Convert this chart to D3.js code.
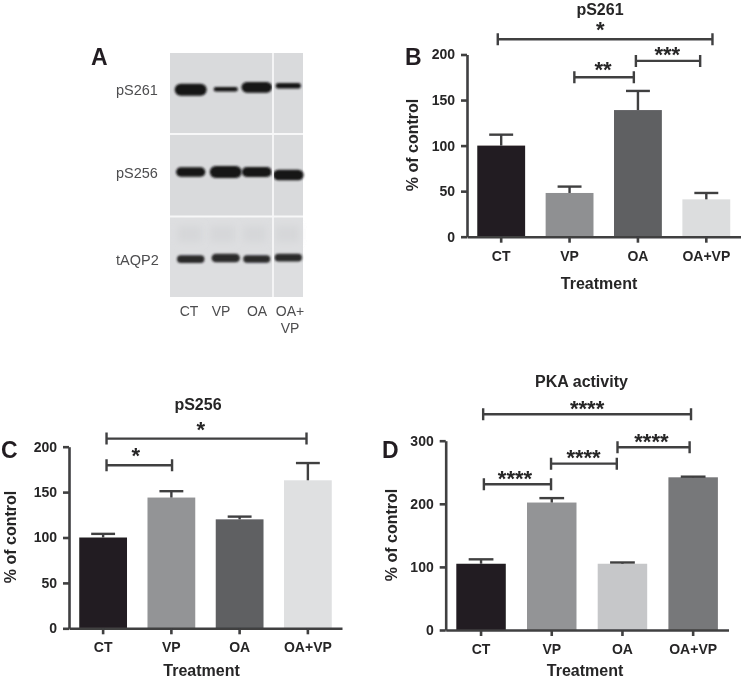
<!DOCTYPE html>
<meta charset="utf-8">
<style>
html, body { margin: 0; background: #fff; }
svg { display: block; font-family: "Liberation Sans", Arial, sans-serif; }
.panel-letter { font-size: 23px; font-weight: bold; fill: #231f20; }
.title, .tick text { font-weight: bold; fill: #262526; }
.title { font-size: 16px; text-anchor: middle; }
.axis-label { font-size: 16px; font-weight: bold; fill: #262526; text-anchor: middle; }
.tick text { font-size: 14px; font-family: "Liberation Sans", Arial, sans-serif; }
.domain, .tick line { stroke: #3f3f41; stroke-width: 2.6px; }
.err, .bracket { stroke: #3f3f41; stroke-width: 2.4px; fill: none; }
.star { font-size: 22px; font-weight: bold; fill: #262526; text-anchor: middle; }
.blot-label { font-size: 14.5px; fill: #4d4d4f; }
.lane-label { font-size: 14px; fill: #4d4d4f; text-anchor: middle; }
</style>
<body>
<script src="https://cdn.jsdelivr.net/npm/d3@7"></script>
<script>
var categories = ["CT", "VP", "OA", "OA+VP"];

var pS261Values = [100, 48, 139, 41];
var pS261Errors = [112, 55, 160, 48];
var pS261Ticks = [0, 50, 100, 150, 200];
var pS261Colors = ["#231f20", "#8f9092", "#5f6062", "#dcddde"];
// from, to, star position (category position), height (axis units), stars
var pS261Brackets = [[-0.05, 3.09, 1.45, 216.7, "*"], [1.07, 1.94, 1.49, 175, "**"], [1.97, 2.91, 2.43, 193, "***"]];

var pS256Values = [100, 144, 120, 163];
var pS256Errors = [104, 151, 123, 182];
var pS256Ticks = [0, 50, 100, 150, 200];
var pS256Colors = ["#231f20", "#939496", "#5f6062", "#dfe0e1"];
var pS256Brackets = [[0.05, 2.98, 1.43, 208.9, "*"], [0.05, 1.01, 0.48, 179.5, "*"]];

var pkaValues = [105, 202, 105, 242];
var pkaErrors = [112, 209, 107, 243];
var pkaTicks = [0, 100, 200, 300];
var pkaColors = ["#231f20", "#939496", "#c6c7c9", "#77787a"];
var pkaBrackets = [[0.03, 2.97, 1.5, 342, "****"], [0.04, 0.99, 0.48, 231, "****"], [0.99, 1.92, 1.45, 263.6, "****"], [1.93, 2.95, 2.41, 289.6, "****"]];

// western blot, band strength read by eye (0 to 1)
var blotRows = ["pS261", "pS256", "tAQP2"];
var blotLanes = ["CT", "VP", "OA", "OA+VP"];
var pS261Bands = [1, 0.12, 0.85, 0.25];
var pS256Bands = [0.7, 1, 0.75, 0.85];
var tAQP2Bands = [0.5, 0.6, 0.45, 0.5];

var svg = d3.select("body").append("svg")
    .attr("width", 741)
    .attr("height", 682);

var defs = svg.append("defs");
defs.append("filter").attr("id", "soft").append("feGaussianBlur").attr("stdDeviation", 0.35);
defs.append("filter").attr("id", "bandblur")
    .attr("x", "-30%").attr("y", "-80%").attr("width", "160%").attr("height", "260%")
    .append("feGaussianBlur").attr("stdDeviation", 1.3);
defs.append("filter").attr("id", "ghostblur")
    .attr("x", "-60%").attr("y", "-100%").attr("width", "220%").attr("height", "300%")
    .append("feGaussianBlur").attr("stdDeviation", 3.5);

function barPanel(opt) {
  var g = svg.append("g").attr("filter", "url(#soft)");

  var x = d3.scaleBand()
      .domain(categories)
      .range([opt.left, opt.right])
      .paddingInner(0.3)
      .paddingOuter(0.15);

  var y = d3.scaleLinear()
      .domain([0, d3.max(opt.ticks)])
      .range([opt.bottom, opt.top]);

  // category position -> pixel, for the significance brackets
  var xPos = d3.scaleLinear()
      .domain([0, categories.length - 1])
      .range([x(categories[0]) + x.bandwidth() / 2, x(categories[categories.length - 1]) + x.bandwidth() / 2]);

  g.selectAll("rect.bar")
      .data(opt.values)
      .enter().append("rect")
      .attr("class", "bar")
      .attr("x", (d, i) => x(categories[i]))
      .attr("y", d => y(d))
      .attr("width", x.bandwidth())
      .attr("height", d => y(0) - y(d))
      .attr("fill", (d, i) => opt.colors[i]);

  var capWidth = x.bandwidth() / 2;
  opt.errors.forEach(function(e, i) {
    var cx = x(categories[i]) + x.bandwidth() / 2;
    g.append("path")
        .attr("class", "err")
        .attr("d", d3.line()([[cx, y(opt.values[i])], [cx, y(e)]]));
    g.append("path")
        .attr("class", "err")
        .attr("d", d3.line()([[cx - capWidth / 2, y(e)], [cx + capWidth / 2, y(e)]]));
  });

  g.append("g")
      .attr("transform", "translate(0," + opt.bottom + ")")
      .call(d3.axisBottom(x).tickSize(6).tickPadding(8).tickSizeOuter(0));

  g.append("g")
      .attr("transform", "translate(" + opt.left + ",0)")
      .call(d3.axisLeft(y).tickValues(opt.ticks).tickSize(6).tickPadding(6).tickSizeOuter(0));

  opt.brackets.forEach(function(b) {
    var x0 = xPos(b[0]), x1 = xPos(b[1]), by = y(b[3]);
    g.append("path")
        .attr("class", "bracket")
        .attr("d", "M" + x0 + "," + (by - 6) + "V" + (by + 6) + "M" + x0 + "," + by + "H" + x1 + "M" + x1 + "," + (by - 6) + "V" + (by + 6));
    g.append("text")
        .attr("class", "star")
        .attr("x", xPos(b[2]))
        .attr("y", by + Math.min(b[4].length * 2 - 4, 1.5))
        .text(b[4]);
  });

  g.append("text").attr("class", "title")
      .attr("x", opt.titleX).attr("y", opt.titleY).text(opt.title);
  g.append("text").attr("class", "axis-label")
      .attr("x", opt.xLabelX).attr("y", opt.xLabelY).text("Treatment");
  g.append("text").attr("class", "axis-label")
      .attr("transform", "translate(" + opt.yLabelX + "," + opt.yLabelY + ") rotate(-90)")
      .text("% of control");
  g.append("text").attr("class", "panel-letter")
      .attr("x", opt.letterX).attr("y", opt.letterY).text(opt.letter);
}

barPanel({
  letter: "B", letterX: 405, letterY: 65,
  title: "pS261", titleX: 600, titleY: 15,
  xLabelX: 599, xLabelY: 289, yLabelX: 417.5, yLabelY: 145,
  left: 467, right: 740.5, top: 54.5, bottom: 236.7,
  values: pS261Values, errors: pS261Errors, ticks: pS261Ticks,
  colors: pS261Colors, brackets: pS261Brackets
});

barPanel({
  letter: "C", letterX: 1, letterY: 458,
  title: "pS256", titleX: 198, titleY: 410,
  xLabelX: 201.5, xLabelY: 676, yLabelX: 16, yLabelY: 537,
  left: 69, right: 342, top: 446.7, bottom: 628.3,
  values: pS256Values, errors: pS256Errors, ticks: pS256Ticks,
  colors: pS256Colors, brackets: pS256Brackets
});

barPanel({
  letter: "D", letterX: 382, letterY: 458,
  title: "PKA activity", titleX: 581.5, titleY: 387,
  xLabelX: 585, xLabelY: 676, yLabelX: 396.5, yLabelY: 535,
  left: 445.7, right: 728.5, top: 440.7, bottom: 630,
  values: pkaValues, errors: pkaErrors, ticks: pkaTicks,
  colors: pkaColors, brackets: pkaBrackets
});

// panel A, the blot
var blot = svg.append("g").attr("filter", "url(#soft)");
var laneX = d3.scalePoint().domain(blotLanes).range([191.7, 289.3]);
var rowY = d3.scaleOrdinal().domain(blotRows).range([89.3, 172, 259]);
var bandWidth = d3.scaleLinear().domain([0, 1]).range([23, 32]);
var bandHeight = d3.scaleLinear().domain([0, 1]).range([3.5, 12]);

// lanes did not run perfectly level, small vertical drift per lane
var drift = {pS261: [0.5, 0, -2, -3.5], pS256: [0, 0, 0, 3], tAQP2: [0, -1, 0, -1.5]};
var laneShift = d3.scaleOrdinal().domain(blotLanes).range([-1, 1.5, 0, -1]);

blot.append("rect")
    .attr("x", 170).attr("y", 53)
    .attr("width", 133).attr("height", 244)
    .attr("fill", "#d9dadc");
blot.append("rect")
    .attr("x", 170).attr("y", 217)
    .attr("width", 133).attr("height", 80)
    .attr("fill", "#dddee0");

// faint smears above the tAQP2 bands
blot.selectAll(null)
    .data(tAQP2Bands)
    .enter().append("rect")
    .attr("x", (d, i) => laneX(blotLanes[i]) - bandWidth(d) / 2)
    .attr("y", 226)
    .attr("width", d => bandWidth(d) - 4)
    .attr("height", 16)
    .attr("fill", "#d6d7d9")
    .attr("filter", "url(#ghostblur)");

[[blotRows[0], pS261Bands, "#141315"], [blotRows[1], pS256Bands, "#141315"], [blotRows[2], tAQP2Bands, "#2a292b"]].forEach(function(row) {
  blot.selectAll(null)
      .data(row[1])
      .enter().append("rect")
      .attr("x", (d, i) => laneX(blotLanes[i]) + laneShift(blotLanes[i]) - bandWidth(d) / 2)
      .attr("y", (d, i) => rowY(row[0]) + drift[row[0]][i] - bandHeight(d) / 2)
      .attr("width", d => bandWidth(d))
      .attr("height", d => bandHeight(d))
      .attr("rx", d => bandHeight(d) / 2)
      .attr("fill", row[2])
      .attr("filter", "url(#bandblur)");
  blot.append("text")
      .attr("class", "blot-label")
      .attr("x", 116)
      .attr("y", rowY(row[0]) + 6)
      .text(row[0]);
});

blot.append("path")
    .attr("d", "M273,53V297M170,134H303M170,216.5H303")
    .attr("stroke", "#f7f7f8")
    .attr("stroke-width", 1.8)
    .attr("fill", "none");

blot.append("text").attr("class", "panel-letter")
    .attr("x", 91).attr("y", 65).text("A");

[["CT", 189], ["VP", 221], ["OA", 257], ["OA+", 290]].forEach(function(l) {
  blot.append("text")
      .attr("class", "lane-label")
      .attr("x", l[1]).attr("y", 315.5)
      .text(l[0]);
});
blot.append("text")
    .attr("class", "lane-label")
    .attr("x", 290).attr("y", 333)
    .text("VP");
</script>
</body>
